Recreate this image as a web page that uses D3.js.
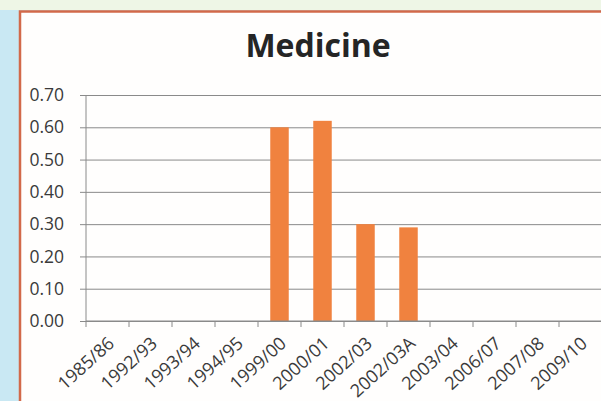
<!DOCTYPE html>
<html>
<head>
<meta charset="utf-8">
<script src="https://cdn.jsdelivr.net/npm/d3@7"></script>
<style>
  html, body { margin: 0; padding: 0; background: #c9e8f3; }
  svg { display: block; }
</style>
</head>
<body>
<svg id="chart" width="601" height="401"></svg>
<script>
// Medicine: ratio per academic year
const categories = ["1985/86", "1992/93", "1993/94", "1994/95", "1999/00", "2000/01",
                    "2002/03", "2002/03A", "2003/04", "2006/07", "2007/08", "2009/10"];
const values = [0, 0, 0, 0, 0.60, 0.62, 0.30, 0.29, 0, 0, 0, 0];
const yTicks = [0, 0.1, 0.2, 0.3, 0.4, 0.5, 0.6, 0.7];
const title = "Medicine";

const svg = d3.select("#chart");
const W = 601, H = 401;

// page backdrop and chart panel
svg.append("rect").attr("x", 0).attr("y", 0).attr("width", W).attr("height", H).attr("fill", "#c9e8f3");
svg.append("rect").attr("x", 0).attr("y", 0).attr("width", W).attr("height", 10).attr("fill", "#eef6e6");
svg.append("rect").attr("x", 20).attr("y", 11.5).attr("width", W).attr("height", H)
  .attr("fill", "#fffefd").attr("stroke", "#d2694a").attr("stroke-width", 2.5);

const plot = { left: 86, right: 602, top: 95, bottom: 321 };

const x = d3.scaleBand().domain(categories).range([plot.left, plot.right]).paddingInner(0.57).paddingOuter(0.285);
const xBand = d3.scaleBand().domain(categories).range([plot.left, plot.right]);
const y = d3.scaleLinear().domain([0, 0.7]).range([plot.bottom, plot.top]);

const font = "'Open Sans', 'Noto Sans', sans-serif";

// title
svg.append("text").attr("x", 318).attr("y", 57).attr("text-anchor", "middle")
  .attr("font-family", font).attr("font-weight", "bold").attr("font-size", 32)
  .attr("fill", "#252525").text(title);

// horizontal gridlines + y axis
const yAxis = d3.axisLeft(y).tickValues(yTicks).tickFormat(d3.format(".2f"))
  .tickSize(-(plot.right - plot.left)).tickPadding(2);
const gy = svg.append("g").attr("transform", `translate(${plot.left},0)`).call(yAxis);
gy.select(".domain").remove();
gy.selectAll(".tick line").attr("stroke", "#8a8a8a").attr("stroke-width", 1).attr("x1", -6);
gy.selectAll(".tick text").attr("font-family", font).attr("font-size", 17.5).attr("fill", "#3a3a3a").attr("x", -22);
svg.append("line").attr("x1", plot.left).attr("x2", plot.left).attr("y1", plot.top).attr("y2", plot.bottom)
  .attr("stroke", "#8a8a8a").attr("stroke-width", 1);

// bars
svg.append("g").selectAll("rect").data(categories.map((c, i) => ({ c, v: values[i] })))
  .join("rect")
  .attr("x", d => x(d.c)).attr("width", x.bandwidth())
  .attr("y", d => y(d.v)).attr("height", d => y(0) - y(d.v))
  .attr("fill", "#f0823f");

// x axis with ticks between categories
svg.append("line").attr("x1", plot.left).attr("x2", plot.right).attr("y1", plot.bottom).attr("y2", plot.bottom)
  .attr("stroke", "#8a8a8a").attr("stroke-width", 1);
svg.append("g").selectAll("line").data(categories.concat(["end"]))
  .join("line")
  .attr("x1", (d, i) => plot.left + i * xBand.bandwidth())
  .attr("x2", (d, i) => plot.left + i * xBand.bandwidth())
  .attr("y1", plot.bottom).attr("y2", plot.bottom + 6)
  .attr("stroke", "#8a8a8a").attr("stroke-width", 1);

svg.append("g").selectAll("text").data(categories)
  .join("text")
  .attr("transform", d => `translate(${xBand(d) + xBand.bandwidth() / 2 + 8},${plot.bottom + 24}) rotate(-42)`)
  .attr("text-anchor", "end")
  .attr("font-family", font).attr("font-size", 18).attr("fill", "#3a3a3a")
  .text(d => d);
</script>
</body>
</html>
